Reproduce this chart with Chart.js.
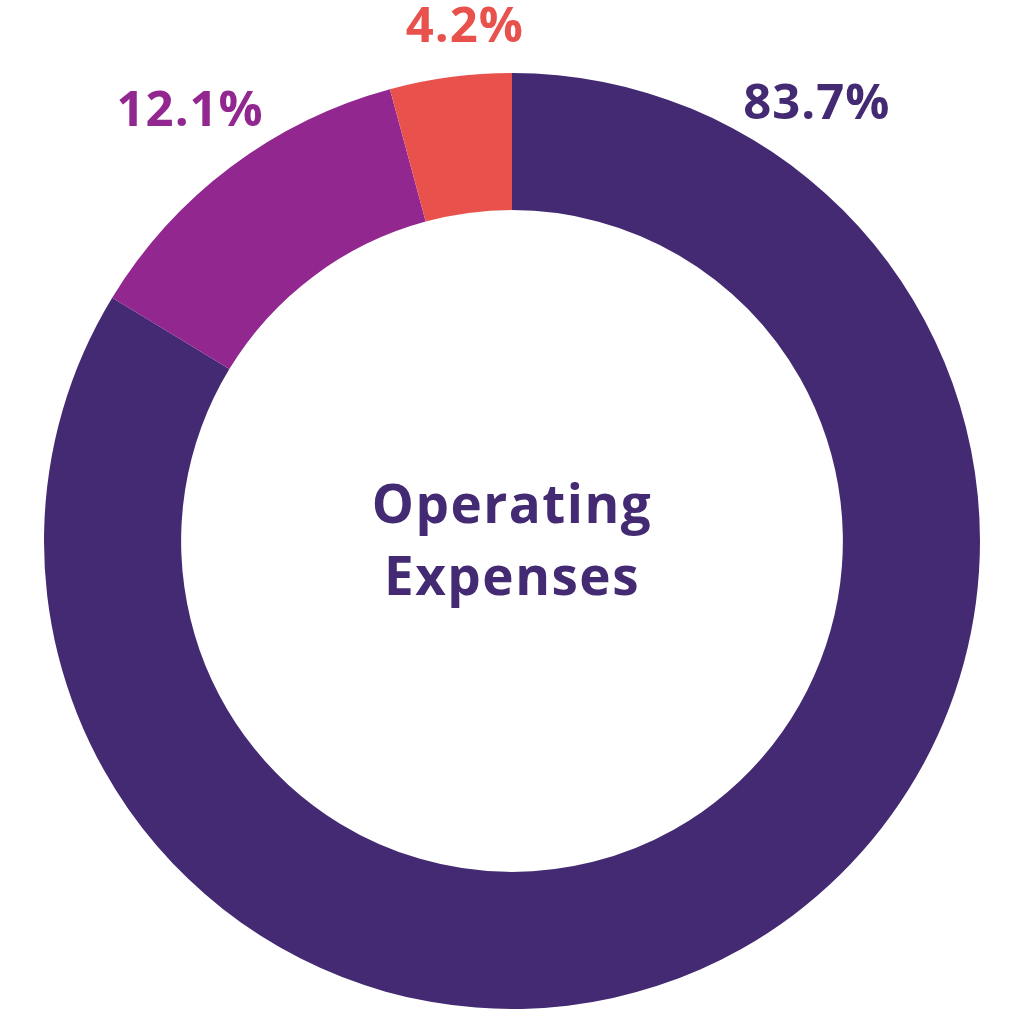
<!DOCTYPE html>
<html>
<head>
<meta charset="utf-8">
<script src="https://cdn.jsdelivr.net/npm/chart.js@4/dist/chart.umd.min.js"></script>
<style>
  html, body { margin: 0; padding: 0; background: #fff; }
  #wrap { width: 1024px; height: 1024px; position: relative; }
</style>
</head>
<body>
<div id="wrap"><canvas id="opexChart"></canvas></div>
<script>
// data
const categories = ['Segment A', 'Segment B', 'Segment C'];
const shares = [83.7, 12.1, 4.2];
const labelTexts = ['83.7%', '12.1%', '4.2%'];
const centerLines = ['Operating', 'Expenses'];
const colors = ['#432a72', '#92278f', '#e9524c'];

// labels sit outside the ring; the big slice has its label up at the top right
const outsideLabels = {
    id: 'outsideLabels',
    afterDatasetsDraw(chart) {
        const ctx = chart.ctx;
        const meta = chart.getDatasetMeta(0);
        ctx.save();
        ctx.font = '700 49px "Open Sans", sans-serif';
        ctx.textAlign = 'center';
        ctx.textBaseline = 'middle';
        ctx.letterSpacing = '1px';
        meta.data.forEach((arc, i) => {
            let ang = (arc.startAngle + arc.endAngle) / 2;
            let r = arc.outerRadius + 68;
            if (i === 0) { ang = arc.startAngle + 0.61; r = arc.outerRadius + 64; }
            if (i === 2) { ang = ang + 0.04; r = arc.outerRadius + 47; }
            ctx.fillStyle = colors[i];
            ctx.fillText(labelTexts[i], arc.x + Math.cos(ang) * r, arc.y + Math.sin(ang) * r);
        });
        // centre title
        const arc0 = meta.data[0];
        ctx.fillStyle = colors[0];
        ctx.font = '700 53px "Open Sans", sans-serif';
        ctx.letterSpacing = '1.5px';
        ctx.fillText(centerLines[0], arc0.x, arc0.y - 33);
        ctx.fillText(centerLines[1], arc0.x, arc0.y + 39);
        ctx.restore();
    }
};

const ctx = document.getElementById('opexChart');
new Chart(ctx, {
    type: 'doughnut',
    data: {
        labels: categories,
        datasets: [{
            data: shares,
            backgroundColor: colors,
            borderWidth: 0
        }]
    },
    options: {
        responsive: true,
        maintainAspectRatio: false,
        animation: false,
        cutout: '70.7%',
        layout: { padding: { left: 44, right: 44, top: 73, bottom: 15 } },
        plugins: {
            legend: { display: false },
            tooltip: { enabled: false }
        }
    },
    plugins: [outsideLabels]
});
</script>
</body>
</html>
